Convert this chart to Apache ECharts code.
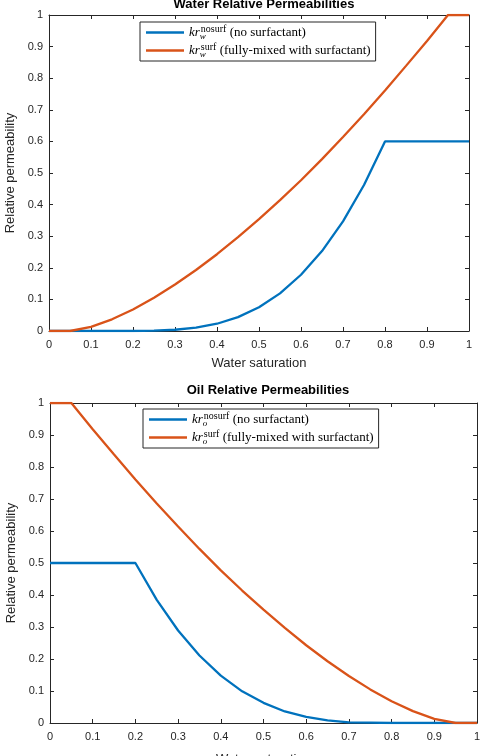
<!DOCTYPE html>
<html>
<head>
<meta charset="utf-8">
<script src="https://cdn.jsdelivr.net/npm/echarts@6/dist/echarts.min.js"></script>
<style>
  html, body { margin: 0; padding: 0; background: #fff; }
  #chart { width: 480px; height: 756px; }
</style>
</head>
<body>
<div id="chart"></div>
<script>
// water saturation sample points
const sw = [0, 0.05, 0.1, 0.15, 0.2, 0.25, 0.3, 0.35, 0.4, 0.45, 0.5, 0.55, 0.6, 0.65, 0.7, 0.75, 0.8, 0.85, 0.9, 0.95, 1];
// water rel perm
const krwNosurf = [0, 0, 0, 0, 0, 0.001, 0.004, 0.011, 0.023, 0.044, 0.075, 0.119, 0.178, 0.253, 0.347, 0.462, 0.6, 0.6, 0.6, 0.6, 0.6];
const krwSurf = [0, 0, 0.013, 0.037, 0.068, 0.105, 0.147, 0.193, 0.243, 0.297, 0.354, 0.414, 0.477, 0.544, 0.614, 0.686, 0.761, 0.839, 0.918, 1, 1];
// oil rel perm
const kroNosurf = [0.5, 0.5, 0.5, 0.5, 0.5, 0.385, 0.289, 0.211, 0.148, 0.099, 0.063, 0.036, 0.019, 0.008, 0.002, 0.001, 0, 0, 0, 0, 0];
const kroSurf = [1, 1, 0.918, 0.839, 0.761, 0.686, 0.614, 0.544, 0.477, 0.414, 0.354, 0.297, 0.243, 0.193, 0.147, 0.105, 0.068, 0.037, 0.013, 0, 0];

const BLUE = "#0072BD";
const ORANGE = "#D95319";
const AXIS = "#262626";
const FONT = "Liberation Sans";
const SERIF = "Liberation Serif";

const pairs = (ys) => sw.map((x, i) => [x, ys[i]]);

const chart = echarts.init(document.getElementById("chart"));

const tick = { show: true, inside: true, length: 4, lineStyle: { color: AXIS } };
const axisLine = { show: true, onZero: false, lineStyle: { color: AXIS, width: 1 } };

const mainX = (grid, gap) => ({
  type: "value", gridIndex: grid, min: 0, max: 1, interval: 0.1,
  name: "Water saturation", nameLocation: "middle", nameGap: gap,
  nameTextStyle: { color: AXIS, fontSize: 13, fontFamily: FONT },
  axisLine: axisLine, axisTick: tick,
  axisLabel: { color: AXIS, fontSize: 11, fontFamily: FONT, margin: 8,
    formatter: (v) => String(+v.toFixed(1)) },
  splitLine: { show: false }
});
const topX = (grid) => ({
  type: "value", gridIndex: grid, position: "top", min: 0, max: 1, interval: 0.1,
  axisLine: axisLine, axisTick: tick,
  axisLabel: { show: false }, splitLine: { show: false }
});
const mainY = (grid) => ({
  type: "value", gridIndex: grid, position: "left", min: 0, max: 1, interval: 0.1,
  name: "Relative permeability", nameLocation: "middle", nameGap: 26,
  nameTextStyle: { color: AXIS, fontSize: 13, fontFamily: FONT },
  axisLine: axisLine, axisTick: tick,
  axisLabel: { color: AXIS, fontSize: 11, fontFamily: FONT, margin: 6,
    formatter: (v) => String(+v.toFixed(1)) },
  splitLine: { show: false }
});
const rightY = (grid) => ({
  type: "value", gridIndex: grid, position: "right", min: 0, max: 1, interval: 0.1,
  axisLine: axisLine, axisTick: tick,
  axisLabel: { show: false }, splitLine: { show: false }
});

const rich = {
  kr: { fontFamily: SERIF, fontStyle: "italic", fontSize: 13, color: "#000" },
  sub: { fontFamily: SERIF, fontStyle: "italic", fontSize: 9, color: "#000",
    verticalAlign: "bottom", padding: [7, 0, 0, 0], width: 1, align: "left" },
  sup: { fontFamily: SERIF, fontSize: 10, color: "#000", verticalAlign: "top", padding: [0, 0, 6, 0] },
  txt: { fontFamily: SERIF, fontSize: 13, color: "#000" }
};
const legendText = {
  "krw nosurf": "{kr|kr}{sub|w}{sup|nosurf} {txt|(no surfactant)}",
  "krw surf": "{kr|kr}{sub|w}{sup|surf} {txt|(fully-mixed with surfactant)}",
  "kro nosurf": "{kr|kr}{sub|o}{sup|nosurf} {txt|(no surfactant)}",
  "kro surf": "{kr|kr}{sub|o}{sup|surf} {txt|(fully-mixed with surfactant)}"
};
const legend = (names, left, top) => ({
  data: names, orient: "vertical", left: left, top: top,
  padding: [2, 5, 2, 6], itemGap: 1,
  borderColor: AXIS, borderWidth: 1, backgroundColor: "#fff",
  icon: "rect", itemWidth: 38, itemHeight: 2.5,
  selectedMode: false,
  formatter: (n) => legendText[n],
  textStyle: { rich: rich, lineHeight: 17 }
});

const line = (name, x, y, data, color) => ({
  name: name, type: "line", xAxisIndex: x, yAxisIndex: y, data: data,
  showSymbol: false, symbol: "none", animation: false,
  lineStyle: { color: color, width: 2.3 }, itemStyle: { color: color }
});

chart.setOption({
  backgroundColor: "#fff",
  animation: false,
  title: [
    { text: "Water Relative Permeabilities", left: 259, top: -7, textAlign: "center",
      textStyle: { fontSize: 13, fontWeight: "bold", color: "#000", fontFamily: FONT } },
    { text: "Oil Relative Permeabilities", left: 263, top: 379, textAlign: "center",
      textStyle: { fontSize: 13, fontWeight: "bold", color: "#000", fontFamily: FONT } }
  ],
  legend: [
    legend(["krw nosurf", "krw surf"], 140, 22),
    legend(["kro nosurf", "kro surf"], 143, 409)
  ],
  grid: [
    { left: 49, right: 11, top: 15, height: 316, outerBoundsMode: "none", containLabel: false },
    { left: 50, right: 3, top: 403, height: 320, outerBoundsMode: "none", containLabel: false }
  ],
  xAxis: [mainX(0, 26), topX(0), mainX(1, 30), topX(1)],
  yAxis: [mainY(0), rightY(0), mainY(1), rightY(1)],
  series: [
    line("krw nosurf", 0, 0, pairs(krwNosurf), BLUE),
    line("krw surf", 0, 0, pairs(krwSurf), ORANGE),
    line("kro nosurf", 2, 2, pairs(kroNosurf), BLUE),
    line("kro surf", 2, 2, pairs(kroSurf), ORANGE)
  ]
});
</script>
</body>
</html>
